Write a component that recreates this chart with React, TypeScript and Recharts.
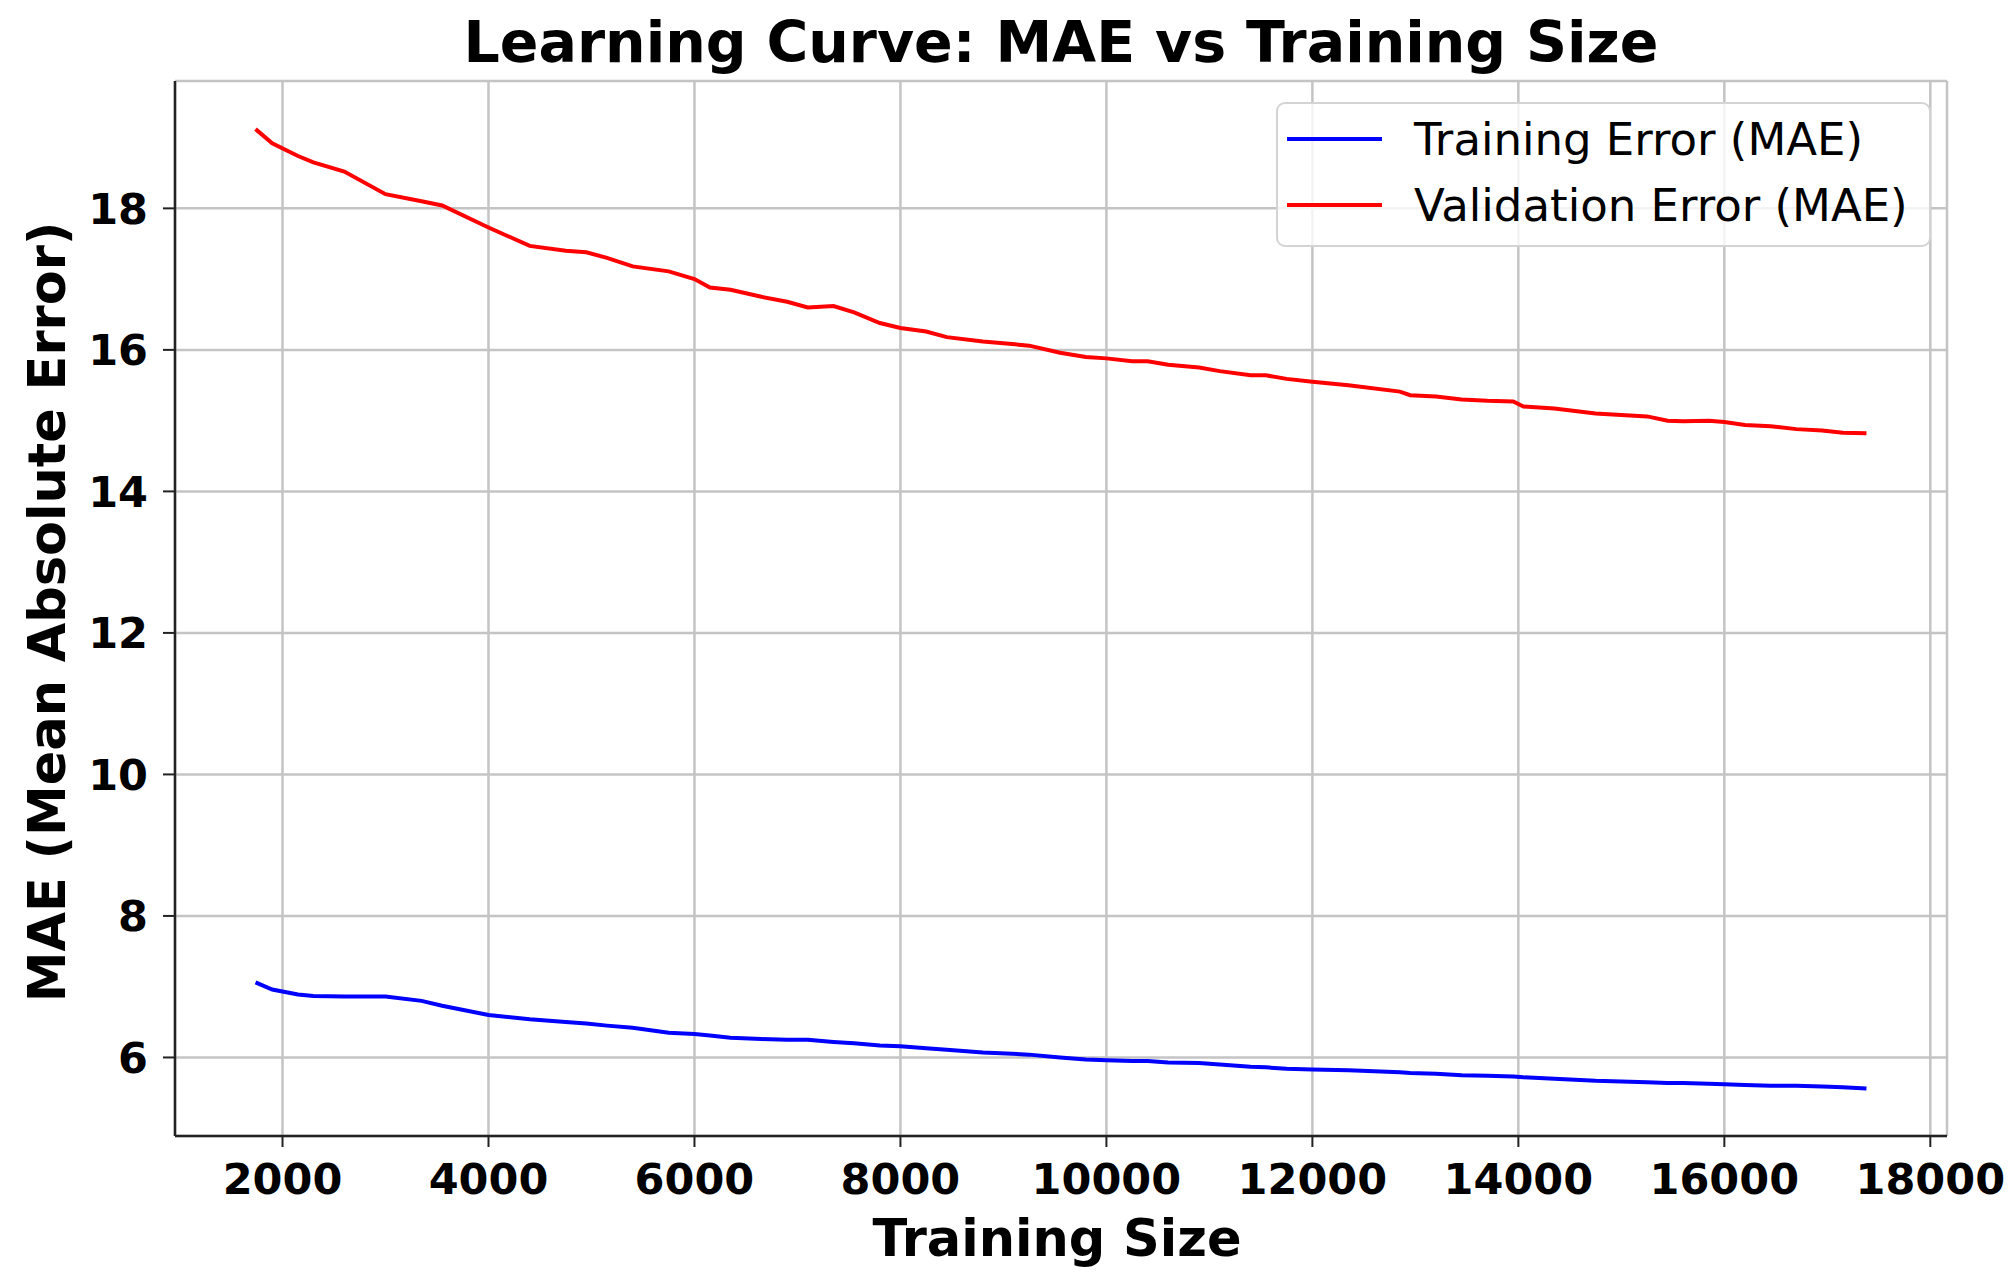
import React from "react";
import { LineChart, Line, XAxis, YAxis, CartesianGrid, Legend } from "recharts";

// training sizes the curves were sampled at
const trainingSizes = [
  1738, 1900, 2150, 2300, 2600, 3000, 3350, 3550, 4000, 4400, 4750, 4950, 5150,
  5400, 5750, 6000, 6150, 6350, 6650, 6900, 7100, 7350, 7550, 7800, 8000, 8250,
  8450, 8800, 9250, 9550, 9800, 10000, 10250, 10400, 10600, 10900, 11100, 11400,
  11550, 11750, 12000, 12350, 12850, 12950, 13200, 13450, 13700, 13950, 14050,
  14350, 14750, 15000, 15250, 15450, 15600, 15850, 16000, 16200, 16450, 16700,
  16950, 17150, 17380,
];

const trainingMae = [
  7.06, 6.96, 6.89, 6.87, 6.86, 6.86, 6.8, 6.73, 6.6, 6.54, 6.5, 6.48, 6.45,
  6.42, 6.35, 6.33, 6.31, 6.28, 6.26, 6.25, 6.25, 6.22, 6.2, 6.17, 6.16, 6.13,
  6.11, 6.07, 6.04, 6.0, 5.97, 5.96, 5.95, 5.95, 5.93, 5.92, 5.9, 5.87, 5.86,
  5.84, 5.83, 5.82, 5.79, 5.78, 5.77, 5.75, 5.74, 5.73, 5.72, 5.7, 5.67, 5.66,
  5.65, 5.64, 5.64, 5.63, 5.62, 5.61, 5.6, 5.6, 5.59, 5.58, 5.56,
];

const validationMae = [
  19.12, 18.92, 18.74, 18.65, 18.52, 18.2, 18.1, 18.04, 17.73, 17.47, 17.4,
  17.38, 17.3, 17.18, 17.11, 17.0, 16.88, 16.85, 16.75, 16.68, 16.6, 16.62,
  16.53, 16.38, 16.31, 16.26, 16.18, 16.12, 16.06, 15.96, 15.9, 15.88, 15.84,
  15.84, 15.79, 15.75, 15.7, 15.64, 15.64, 15.59, 15.55, 15.5, 15.41, 15.36,
  15.34, 15.3, 15.28, 15.27, 15.2, 15.17, 15.1, 15.08, 15.06, 15.0, 14.99, 15.0,
  14.98, 14.94, 14.92, 14.88, 14.86, 14.83, 14.82,
];

const xTicks = [2000, 4000, 6000, 8000, 10000, 12000, 14000, 16000, 18000];
const yTicks = [6, 8, 10, 12, 14, 16, 18];

const data = trainingSizes.map((size, i) => ({
  size,
  train: trainingMae[i],
  val: validationMae[i],
}));

const FONT = "'DejaVu Sans', sans-serif";
const W = 2015;
const H = 1286;

const tickStyle = {
  fontFamily: FONT,
  fontSize: 43,
  fontWeight: "bold" as const,
  fill: "#000",
};

function LegendBox({ payload }: any) {
  return (
    <div
      style={{
        boxSizing: "border-box",
        width: 655,
        height: 145,
        border: "2px solid #d4d4d4",
        borderRadius: 9,
        background: "rgba(255,255,255,0.8)",
        paddingTop: 2,
        fontFamily: FONT,
        fontSize: 45,
        color: "#000",
      }}
    >
      {(payload || []).map((p: any) => (
        <div
          key={p.value}
          style={{ display: "flex", alignItems: "center", height: 66 }}
        >
          <div
            style={{
              marginLeft: 9,
              width: 95,
              height: 4,
              background: p.color,
            }}
          />
          <span style={{ marginLeft: 32, lineHeight: 1 }}>{p.value}</span>
        </div>
      ))}
    </div>
  );
}

export default function App() {
  return (
    <div
      style={{
        position: "absolute",
        left: 0,
        top: 0,
        width: W,
        height: H,
        background: "#fff",
      }}
    >
      <LineChart
        width={W}
        height={H}
        data={data}
        margin={{ top: 81, right: 68, left: 75, bottom: 70 }}
      >
        <CartesianGrid stroke="#c4c4c4" strokeWidth={2.5} />
        <XAxis
          dataKey="size"
          type="number"
          domain={[956, 18162]}
          ticks={xTicks}
          height={80}
          tickSize={11}
          tickMargin={16}
          tick={tickStyle}
          axisLine={{ stroke: "#222", strokeWidth: 2.5 }}
          tickLine={{ stroke: "#222", strokeWidth: 2 }}
        />
        <XAxis
          xAxisId="top"
          orientation="top"
          dataKey="size"
          type="number"
          domain={[956, 18162]}
          height={0}
          tick={false}
          tickLine={false}
          axisLine={{ stroke: "#222", strokeWidth: 2.5 }}
        />
        <YAxis
          type="number"
          domain={[4.89, 19.8]}
          ticks={yTicks}
          width={100}
          tickSize={12}
          tickMargin={15}
          tick={tickStyle}
          axisLine={{ stroke: "#222", strokeWidth: 2.5 }}
          tickLine={{ stroke: "#222", strokeWidth: 2 }}
        />
        <YAxis
          yAxisId="right"
          orientation="right"
          type="number"
          domain={[4.89, 19.8]}
          width={0}
          tick={false}
          tickLine={false}
          axisLine={{ stroke: "#222", strokeWidth: 2.5 }}
        />
        <Legend
          layout="vertical"
          align="center"
          verticalAlign="middle"
          wrapperStyle={{ left: 1276, top: 102, width: 655, height: 145 }}
          content={<LegendBox />}
        />
        <Line
          dataKey="train"
          name="Training Error (MAE)"
          stroke="#0000ff"
          strokeWidth={4}
          dot={false}
          type="linear"
          isAnimationActive={false}
        />
        <Line
          dataKey="val"
          name="Validation Error (MAE)"
          stroke="#ff0000"
          strokeWidth={4}
          dot={false}
          type="linear"
          isAnimationActive={false}
        />
      </LineChart>
      <svg
        width={W}
        height={H}
        style={{ position: "absolute", left: 0, top: 0, pointerEvents: "none" }}
      >
        <text
          x={1061}
          y={62}
          textAnchor="middle"
          fontFamily={FONT}
          fontWeight="bold"
          fontSize={57}
        >
          Learning Curve: MAE vs Training Size
        </text>
        <text
          x={1057}
          y={1256}
          textAnchor="middle"
          fontFamily={FONT}
          fontWeight="bold"
          fontSize={51}
        >
          Training Size
        </text>
        <text
          transform="translate(65,612) rotate(-90)"
          textAnchor="middle"
          fontFamily={FONT}
          fontWeight="bold"
          fontSize={51}
        >
          MAE (Mean Absolute Error)
        </text>
      </svg>
    </div>
  );
}
